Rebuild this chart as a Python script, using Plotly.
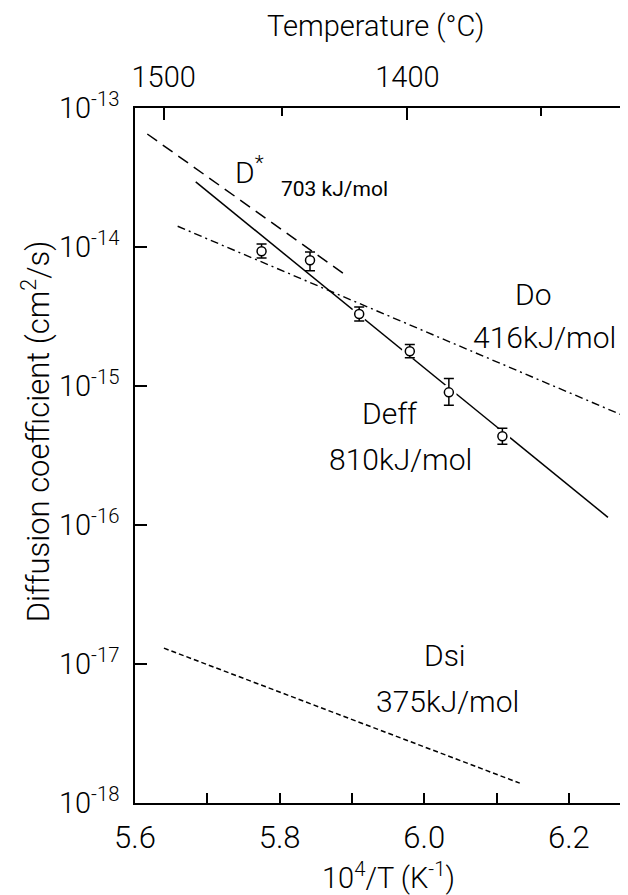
import plotly.graph_objects as go

# ---- data ----
x_pts = [5.775, 5.842, 5.910, 5.980, 6.034, 6.108]
d_pts = [9.31e-15, 8.02e-15, 3.30e-15, 1.78e-15, 9.0e-16, 4.35e-16]
d_hi = [1.052e-14, 9.2e-15, 3.70e-15, 1.99e-15, 1.13e-15, 4.97e-16]
d_lo = [8.34e-15, 6.75e-15, 2.94e-15, 1.60e-15, 7.26e-16, 3.81e-16]

dstar_x = [5.617, 5.891]
dstar_y = [6.50e-14, 6.30e-15]
deff_x = [5.684, 6.254]
deff_y = [2.94e-14, 1.135e-16]
do_x = [5.659, 6.272]
do_y = [1.41e-14, 6.22e-16]
dsi_x = [5.640, 6.132]
dsi_y = [1.30e-17, 1.39e-18]

x_major = [5.6, 5.8, 6.0, 6.2]
x_major_text = ["5.6", "5.8", "6.0", "6.2"]
x_minor = [5.7, 5.9, 6.1]
y_ticks = [1e-18, 1e-17, 1e-16, 1e-15, 1e-14, 1e-13]
y_text = ["10<sup>-18</sup>", "10<sup>-17</sup>", "10<sup>-16</sup>",
          "10<sup>-15</sup>", "10<sup>-14</sup>", "10<sup>-13</sup>"]
temp_major_c = [1500, 1400]
temp_minor_c = [1450, 1350]

FONT = "Roboto, DejaVu Sans, sans-serif"
W = 300
BLK = "black"

err_plus = [h - d for h, d in zip(d_hi, d_pts)]
err_minus = [d - l for d, l in zip(d_pts, d_lo)]

fig = go.Figure()
fig.add_trace(go.Scatter(x=dstar_x, y=dstar_y, mode="lines",
                         line=dict(color=BLK, width=1.5, dash="12px,7px")))
fig.add_trace(go.Scatter(x=deff_x, y=deff_y, mode="lines",
                         line=dict(color=BLK, width=1.5)))
fig.add_trace(go.Scatter(x=do_x, y=do_y, mode="lines",
                         line=dict(color=BLK, width=1.4, dash="8px,4px,2px,4px")))
fig.add_trace(go.Scatter(x=dsi_x, y=dsi_y, mode="lines",
                         line=dict(color=BLK, width=1.5, dash="5px,3px")))
# white halo that breaks the line around each measured point
fig.add_trace(go.Scatter(x=x_pts, y=d_pts, mode="markers",
                         marker=dict(color="white", size=16, line=dict(width=0))))
fig.add_trace(go.Scatter(x=x_pts, y=d_pts, mode="markers",
                         marker=dict(symbol="circle", size=9, color="white",
                                     line=dict(color=BLK, width=1.5)),
                         error_y=dict(type="data", array=err_plus, arrayminus=err_minus,
                                      color=BLK, thickness=1.5, width=5)))
# invisible trace so the top temperature axis is drawn
fig.add_trace(go.Scatter(x=x_pts, y=d_pts, xaxis="x2", mode="markers",
                         marker=dict(opacity=0), hoverinfo="skip"))

temp_major = [1e4 / (t + 273.15) for t in temp_major_c]
temp_minor = [1e4 / (t + 273.15) for t in temp_minor_c]

xr = [5.6, 6.29]
fig.update_layout(
    width=628, height=895,
    margin=dict(l=127, r=0, t=100, b=100),
    paper_bgcolor="white", plot_bgcolor="white",
    showlegend=False,
    font=dict(family=FONT, color=BLK, size=28, weight=W),
    xaxis=dict(range=xr, showgrid=False, zeroline=False, showline=True,
               linecolor=BLK, linewidth=1.5, ticks="inside", ticklen=10,
               tickwidth=1.5, tickcolor=BLK, tickmode="array",
               tickvals=x_major, ticktext=x_major_text,
               tickfont=dict(family=FONT, size=31, weight=W), ticklabelstandoff=6,
               minor=dict(tickmode="array", tickvals=x_minor, ticks="inside",
                          ticklen=10, tickwidth=1.5, tickcolor=BLK)),
    xaxis2=dict(range=xr, overlaying="x", side="top", showgrid=False,
                zeroline=False, showline=True, linecolor=BLK, linewidth=1.5,
                ticks="inside", ticklen=12, tickwidth=1.5, tickcolor=BLK,
                tickmode="array", tickvals=temp_major,
                ticktext=[str(t) for t in temp_major_c],
                tickfont=dict(family=FONT, size=29, weight=W), ticklabelstandoff=8,
                minor=dict(tickmode="array", tickvals=temp_minor, ticks="inside",
                           ticklen=8, tickwidth=1.5, tickcolor=BLK)),
    yaxis=dict(type="log", range=[-18, -13], showgrid=False, zeroline=False,
               showline=True, linecolor=BLK, linewidth=1.5, mirror="ticks",
               ticks="inside", ticklen=12, tickwidth=1.5, tickcolor=BLK,
               tickmode="array", tickvals=y_ticks, ticktext=y_text,
               tickfont=dict(family=FONT, size=29, weight=W), ticklabelstandoff=8),
)

ann = []
def txt(x, y, s, size=28, xanchor="center", ref="data", family=FONT, angle=0, weight=W):
    d = dict(x=x, y=y, text=s, showarrow=False, xanchor=xanchor, yanchor="middle",
             font=dict(family=family, size=size, color=BLK, weight=weight),
             textangle=angle)
    if ref == "paper":
        d.update(xref="paper", yref="paper")
    else:
        d.update(xref="x", yref="y")
    ann.append(d)

txt(5.735, -13.45, "D<sup>*</sup>", size=30, xanchor="left")
txt(5.799, -13.583, "703 kJ/mol", size=21, xanchor="left",
    family="Roboto, Liberation Sans, sans-serif", weight=400)
txt(6.150, -14.345, "Do", size=30)
txt(6.166, -14.648, "416kJ/mol", size=30)
txt(5.953, -15.201, "Deff", size=30)
txt(5.967, -15.532, "810kJ/mol", size=30)
txt(6.029, -16.942, "Dsi", size=30)
txt(6.032, -17.273, "375kJ/mol", size=30)

txt(0.481, 1.118, "Temperature (°C)", size=29, ref="paper")
txt(0.509, -0.105, "10<sup>4</sup>/T (K<sup>-1</sup>)", size=29, ref="paper")
txt(-0.198, 0.535, "Diffusion coefficient (cm<sup>2</sup>/s)", size=31,
    ref="paper", angle=-90)

fig.update_layout(annotations=ann)
fig.write_html("out.html")
